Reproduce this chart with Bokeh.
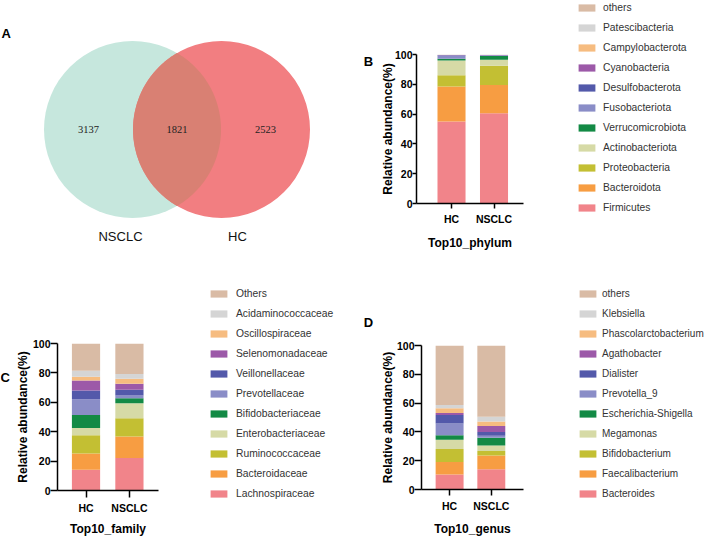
import numpy as np
from bokeh.plotting import figure
from bokeh.models import Range1d, FixedTicker, Legend, LegendItem, ColumnDataSource
from bokeh.layouts import row, column
from bokeh.embed import file_html
from bokeh.resources import INLINE
from bokeh.core.properties import value

FONT = "Liberation Sans"

# ---------------- data ----------------
groups = ["HC", "NSCLC"]

venn_sets = ["NSCLC", "HC"]
venn_counts = [3137, 1821, 2523]  # NSCLC only, shared, HC only

phylum_names = ["Firmicutes", "Bacteroidota", "Proteobacteria", "Actinobacteriota",
                "Verrucomicrobiota", "Fusobacteriota", "Desulfobacterota", "Cyanobacteria",
                "Campylobacterota", "Patescibacteria", "others"]
phylum_hc = [55.0, 23.5, 7.5, 10.0, 1.2, 2.0, 0.3, 0.1, 0.1, 0.1, 0.2]
phylum_nsclc = [60.5, 19.0, 13.0, 4.0, 2.5, 0.3, 0.2, 0.1, 0.1, 0.1, 0.2]

family_names = ["Lachnospiraceae", "Bacteroidaceae", "Ruminococcaceae", "Enterobacteriaceae",
                "Bifidobacteriaceae", "Prevotellaceae", "Veillonellaceae", "Selenomonadaceae",
                "Oscillospiraceae", "Acidaminococcaceae", "Others"]
family_hc = [14.2, 11.0, 12.4, 4.9, 8.8, 10.7, 6.1, 6.7, 2.6, 4.0, 18.6]
family_nsclc = [22.1, 14.6, 12.4, 10.2, 3.5, 1.8, 4.0, 4.0, 3.5, 3.1, 20.8]

genus_names = ["Bacteroides", "Faecalibacterium", "Bifidobacterium", "Megamonas",
               "Escherichia-Shigella", "Prevotella_9", "Dialister", "Agathobacter",
               "Phascolarctobacterium", "Klebsiella", "others"]
genus_hc = [10.5, 8.6, 9.1, 6.3, 3.2, 8.2, 5.9, 1.4, 3.2, 2.2, 41.4]
genus_nsclc = [14.1, 9.5, 3.2, 3.7, 5.4, 1.4, 2.7, 4.1, 3.2, 3.2, 49.5]

y_ticks = [0, 20, 40, 60, 80, 100]

palette = ["#F1848A", "#F79D42", "#C3BF33", "#D6DAA6", "#138A45", "#8A8DC7",
           "#5359AA", "#9C59A8", "#F6BC80", "#D5D5D5", "#D9BBA5"]

TOP_H = 270
BOT_H = 268


def base_fig(width, height, **kw):
    return figure(width=width, height=height, output_backend="svg",
                  toolbar_location=None, **kw)


def blank_fig(width, height, x0, x1, y0, y1, **kw):
    p = base_fig(width, height, x_range=Range1d(x0, x1), y_range=Range1d(y0, y1),
                 x_axis_type=None, y_axis_type=None, **kw)
    p.outline_line_color = None
    return p


def letter(p, text, x, y, align="center"):
    p.text(x=[x], y=[y], text=[text], text_font=value(FONT), text_font_size="13px",
           text_font_style="bold", text_color="black", text_align=align,
           text_baseline="middle")


# ---------------- panel A: Venn (screen-like coordinates) ----------------
pa = blank_fig(375, TOP_H, 0, 375, TOP_H, 0, min_border=0)

cx = [132.0, 221.0]
cy = 129.0
r = 88.5
pa.circle(x=[cx[0]], y=[cy], radius=r, fill_color="#C6E7DD", line_color=None)
pa.circle(x=[cx[1]], y=[cy], radius=r, fill_color="#F27E81", line_color=None)
theta = np.arccos((cx[1] - cx[0]) / 2 / r)
t1 = np.linspace(-theta, theta, 90)
t2 = np.linspace(np.pi - theta, np.pi + theta, 90)
lens_x = np.concatenate([cx[0] + r * np.cos(t1), cx[1] + r * np.cos(t2)])
lens_y = np.concatenate([cy + r * np.sin(t1), cy + r * np.sin(t2)])
pa.patch(lens_x, lens_y, fill_color="#D98073", line_color=None)

num_x = [(cx[0] - r + cx[1] - r) / 2, (cx[1] - r + cx[0] + r) / 2,
         (cx[0] + r + cx[1] + r) / 2]
pa.text(x=num_x, y=[cy] * 3, text=[str(v) for v in venn_counts],
        text_font=value("Liberation Serif"), text_font_size="10.5px", text_color="#222222",
        text_align="center", text_baseline="middle")
pa.text(x=[cx[0] - 12, cx[1] + 16], y=[236, 236], text=venn_sets, text_font=value(FONT),
        text_font_size="13px", text_color="#111111", text_align="center",
        text_baseline="middle")
letter(pa, "A", 1, 33, align="left")
letter(pa, "B", 368, 61)


# ---------------- bar panels ----------------
def bar_panel(names, hc, ns, title, width, height, left, right, top, bottom,
              x0, x1, bar_w, ytick_len, xtick_len, xlabel_standoff, ylab_standoff,
              xlab_standoff):
    p = base_fig(width, height, x_range=Range1d(x0, x1), y_range=Range1d(0, 100),
                 min_border_left=left, min_border_right=right,
                 min_border_top=top, min_border_bottom=bottom)
    data = {"x": list(range(len(groups)))}
    for n, a, b in zip(names, hc, ns):
        data[n] = [a, b]
    src = ColumnDataSource(data)
    p.vbar_stack(names, x="x", width=bar_w, fill_color=palette, line_color=None, source=src)
    p.grid.visible = False
    p.outline_line_color = None
    p.xaxis.ticker = FixedTicker(ticks=data["x"])
    p.xaxis.major_label_overrides = {i: g for i, g in enumerate(groups)}
    p.yaxis.ticker = FixedTicker(ticks=y_ticks)
    p.xaxis.axis_label = title
    p.yaxis.axis_label = "Relative abundance(%)"
    for ax in (p.xaxis[0], p.yaxis[0]):
        ax.axis_line_width = 1.5
        ax.axis_line_color = "black"
        ax.major_tick_line_width = 1.5
        ax.major_tick_line_color = "black"
        ax.major_tick_in = 0
        ax.minor_tick_line_color = None
        ax.major_label_text_font = FONT
        ax.major_label_text_font_size = "10.5px"
        ax.major_label_text_font_style = "bold"
        ax.major_label_text_color = "black"
        ax.axis_label_text_font = FONT
        ax.axis_label_text_font_size = "12px"
        ax.axis_label_text_font_style = "bold"
        ax.axis_label_text_color = "black"
    p.yaxis.major_tick_out = ytick_len
    p.xaxis.major_tick_out = xtick_len
    p.yaxis.major_label_standoff = 0
    p.xaxis.major_label_standoff = xlabel_standoff
    p.yaxis.axis_label_standoff = ylab_standoff
    p.xaxis.axis_label_standoff = xlab_standoff
    return p


def legend_panel(names, width, height, left, top, standoff, font_size="10.3px",
                 label_height=20, spacing=0, x0=0, x1=1, y0=0, y1=1):
    lf = blank_fig(width, height, x0, x1, y0, y1, min_border_left=left,
                   min_border_top=top, min_border_right=0, min_border_bottom=0)
    items = []
    for n, c in zip(names[::-1], palette[::-1]):
        # legend-only renderer: a zero-height bar, nothing is drawn in the frame
        rr = lf.vbar(x=[x0], top=[y0], bottom=[y0], width=0.001, fill_color=c,
                     line_color=None)
        items.append(LegendItem(label=n, renderers=[rr]))
    leg = Legend(items=items, location="top_left", padding=0, margin=0,
                 spacing=spacing, glyph_width=21, glyph_height=9,
                 label_height=label_height, label_standoff=standoff,
                 label_text_font=FONT, label_text_font_size=font_size,
                 label_text_color="#333333", border_line_color=None,
                 background_fill_alpha=0)
    lf.add_layout(leg)
    return lf


pb = bar_panel(phylum_names, phylum_hc, phylum_nsclc, "Top10_phylum", 195, TOP_H,
               41, 47, 54, 67, -0.824, 1.694, 0.66, 4, 5, 4, -3, 8)
lb = legend_panel(phylum_names, 137, TOP_H, 6, 0, 6, label_height=14, spacing=6)

# bottom row
ps = blank_fig(12, BOT_H, 0, 12, 538, 270, min_border=0)
letter(ps, "C", 0, 377, align="left")

pc = bar_panel(family_names, family_hc, family_nsclc, "Top10_family", 188, BOT_H,
               45, 42, 73, 45, -0.657, 1.67, 0.65, 7, 7, 4, 0, 5)

lc = legend_panel(family_names, 176, BOT_H, 8, 13, 7, x0=208, x1=376, y0=538, y1=283)
letter(lc, "D", 368, 322)

pd_ = bar_panel(genus_names, genus_hc, genus_nsclc, "Top10_genus", 194, BOT_H,
                45, 47, 75, 47, -0.674, 1.772, 0.67, 7, 6, 4, -1, 7)
ld = legend_panel(genus_names, 137, BOT_H, 7, 13, 4, font_size="10px")

top_row = row(column(pa), column(pb), column(lb))
bottom_row = row(column(ps), column(pc), column(lc), column(pd_), column(ld))
layout = column(top_row, bottom_row)

open("out.html", "w").write(file_html(layout, INLINE))
